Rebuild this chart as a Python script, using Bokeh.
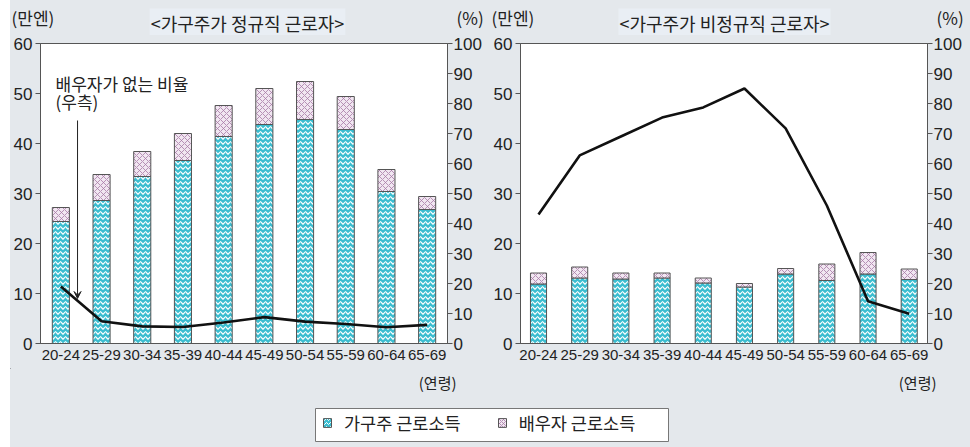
from bokeh.plotting import figure
from bokeh.models import Range1d, LinearAxis, FixedTicker, Label, Arrow, VeeHead, Legend, LegendItem, Spacer
from bokeh.layouts import row, column
from bokeh.embed import file_html
from bokeh.resources import INLINE

ages = ["20-24", "25-29", "30-34", "35-39", "40-44", "45-49", "50-54", "55-59", "60-64", "65-69"]

# 가구주가 정규직 근로자
reg_head = [24.4, 28.6, 33.4, 36.6, 41.4, 43.8, 44.8, 42.8, 30.4, 26.8]
reg_total = [27.2, 33.8, 38.4, 42.0, 47.6, 51.0, 52.4, 49.4, 34.8, 29.4]
reg_nospouse = [19.0, 7.4, 5.7, 5.5, 7.0, 8.8, 7.3, 6.5, 5.4, 6.2]

# 가구주가 비정규직 근로자
irr_head = [11.9, 13.1, 12.9, 13.1, 12.1, 11.3, 13.9, 12.6, 13.9, 12.8]
irr_total = [14.1, 15.3, 14.1, 14.1, 13.1, 12.0, 15.0, 15.9, 18.2, 14.9]
irr_nospouse = [43.0, 62.7, 69.0, 75.3, 78.7, 85.0, 71.7, 46.0, 14.1, 9.9]

left_ticks = [0, 10, 20, 30, 40, 50, 60]
right_ticks = [0, 10, 20, 30, 40, 50, 60, 70, 80, 90, 100]

titles = ["<가구주가 정규직 근로자>", "<가구주가 비정규직 근로자>"]
unit_left = "(만엔)"
unit_right = "(%)"
x_unit = "(연령)"
legend_labels = ["가구주 근로소득", "배우자 근로소득"]
note_lines = ["배우자가 없는 비율", "(우측)"]

BG = "#e4e8ec"
TEAL = "#3bbdd0"
PINK = "#f1e6f1"
PURPLE = "#a77aa6"
KR = "Noto Sans CJK KR"
NUM = "Liberation Sans"
TXT = "#222222"
AX = "#555555"

xs = [i + 0.5 for i in range(len(ages))]


def style_axis(ax, out, standoff, size):
    ax.major_tick_out = out
    ax.major_tick_in = 0
    ax.minor_tick_out = 0
    ax.minor_tick_in = 0
    ax.major_label_standoff = standoff
    ax.axis_line_color = AX
    ax.major_tick_line_color = AX
    ax.major_label_text_font = NUM
    ax.major_label_text_font_size = size
    ax.major_label_text_color = TXT


def make_panel(head, total, nospouse, bl, br, xr, bw):
    p = figure(frame_width=407, frame_height=300, output_backend="svg", toolbar_location=None,
               x_range=Range1d(*xr), y_range=Range1d(0, 60),
               min_border_left=bl, min_border_right=br, min_border_top=8, min_border_bottom=25)
    p.border_fill_color = BG
    p.background_fill_color = "white"
    p.outline_line_color = AX
    p.outline_line_width = 1
    p.grid.visible = False
    p.extra_y_ranges = {"pct": Range1d(0, 100)}

    p.vbar(x=xs, top=head, bottom=0, width=bw, fill_color=TEAL, line_color=AX, line_width=1,
           hatch_pattern="horizontal_wave", hatch_color="white", hatch_scale=5, hatch_weight=1.2)
    p.vbar(x=xs, top=total, bottom=head, width=bw, fill_color=PINK, line_color=AX, line_width=1,
           hatch_pattern="diagonal_cross", hatch_color=PURPLE, hatch_scale=6, hatch_weight=0.8)
    p.line(x=xs, y=nospouse, y_range_name="pct", line_color="#111111", line_width=2.6)

    xa = p.xaxis[0]
    xa.ticker = FixedTicker(ticks=xs)
    xa.major_label_overrides = {x: a for x, a in zip(xs, ages)}
    style_axis(xa, 0, 6, "15px")

    ya = p.yaxis[0]
    ya.ticker = FixedTicker(ticks=left_ticks)
    style_axis(ya, 5, 3, "17px")

    ra = LinearAxis(y_range_name="pct", ticker=FixedTicker(ticks=right_ticks))
    style_axis(ra, 5, 1, "17px")
    p.add_layout(ra, "right")
    return p


p1 = make_panel(reg_head, reg_total, reg_nospouse, bl=30, br=40, xr=(0, 10), bw=0.42)
p2 = make_panel(irr_head, irr_total, irr_nospouse, bl=33, br=43, xr=(0.063, 9.944), bw=0.39)

# annotation on left panel
p1.add_layout(Label(x=0.37, y=52.0, text=note_lines[0], text_font=KR, text_font_size="17px",
                    text_color=TXT, text_baseline="middle", text_align="left"))
p1.add_layout(Label(x=0.37, y=48.4, text=note_lines[1], text_font=KR, text_font_size="17px",
                    text_color=TXT, text_baseline="middle", text_align="left"))
p1.add_layout(Arrow(x_start=0.91, y_start=44.6, x_end=0.91, y_end=9.0, line_color=TXT, line_width=1,
                    end=VeeHead(size=7, line_color=TXT, fill_color=TXT, line_width=1)))


def strip(height, y_top, y_bot):
    s = figure(width=960, height=height, output_backend="svg", toolbar_location=None,
               x_range=Range1d(10, 970), y_range=Range1d(y_bot, y_top), min_border=0)
    s.border_fill_color = BG
    s.background_fill_color = BG
    s.outline_line_color = None
    s.axis.visible = False
    s.grid.visible = False
    return s


def txt(s, x, y, t, align, size="15px", bg=None):
    s.add_layout(Label(x=x, y=y, text=t, text_font=KR, text_font_size=size, text_color=TXT,
                       text_baseline="middle", text_align=align,
                       background_fill_color=bg, padding=1))


# top strip: window y 0..35
top = strip(35, 0, 35)
txt(top, 10, 17, unit_left, "left", "17px")
txt(top, 455, 17, unit_right, "left", "17px")
txt(top, 490, 17, unit_left, "left", "17px")
txt(top, 935, 17, unit_right, "left", "17px")
txt(top, 247, 22, titles[0], "center", "18px", "#e9eef4")
txt(top, 724, 22, titles[1], "center", "18px", "#e9eef4")

# bottom strip: window y 368..447
bot = strip(79, 368, 447)
txt(bot, 457, 382, x_unit, "right", "15px")
txt(bot, 937, 382, x_unit, "right", "15px")
bot.quad(left=[315], right=[668], top=[408], bottom=[441], fill_color="white", line_color="#777777", line_width=1)
r1 = bot.vbar(x=[5], top=[6], bottom=[5], width=0.1, fill_color=TEAL, line_color=AX,
              hatch_pattern="horizontal_wave", hatch_color="white", hatch_scale=4, hatch_weight=1)
r2 = bot.vbar(x=[5], top=[6], bottom=[5], width=0.1, fill_color=PINK, line_color=AX,
              hatch_pattern="diagonal_cross", hatch_color=PURPLE, hatch_scale=4, hatch_weight=0.8)
leg = Legend(items=[LegendItem(label=legend_labels[0], renderers=[r1]),
                    LegendItem(label=legend_labels[1], renderers=[r2])],
             orientation="horizontal", location=(312, 12))
leg.label_text_font = KR
leg.label_text_font_size = "17.5px"
leg.label_text_color = TXT
leg.glyph_width = 10
leg.glyph_height = 11
leg.label_standoff = 12
leg.spacing = 36
leg.padding = 6
leg.margin = 0
leg.border_line_color = None
leg.background_fill_alpha = 0
bot.add_layout(leg, "center")

body = column(top, row(p1, p2, spacing=0), bot, spacing=0, styles={"background-color": BG})
layout = row(Spacer(width=10, height=447), body, spacing=0)
open("out.html", "w").write(file_html(layout, INLINE))
